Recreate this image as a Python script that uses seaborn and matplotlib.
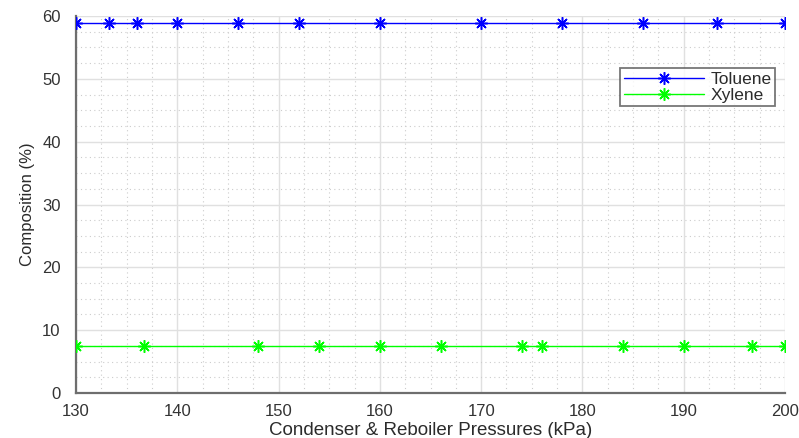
import numpy as np
import pandas as pd
import matplotlib
matplotlib.use("Agg")
import matplotlib.pyplot as plt
from matplotlib.ticker import MultipleLocator
import seaborn as sns

# Column compositions versus condenser/reboiler pressure
toluene_pressure = [130, 133.3, 136, 140, 146, 152, 160, 170, 178, 186, 193.3, 200]
toluene_comp = [58.9, 58.9, 58.9, 58.9, 58.9, 58.9, 58.9, 58.9, 58.9, 58.9, 58.9, 58.9]
xylene_pressure = [130, 136.7, 148, 154, 160, 166, 174, 176, 184, 190, 196.7, 200]
xylene_comp = [7.5, 7.5, 7.5, 7.5, 7.5, 7.5, 7.5, 7.5, 7.5, 7.5, 7.5, 7.5]
components = ["Toluene", "Xylene"]
colors = {"Toluene": "#0000ff", "Xylene": "#00ff00"}

df = pd.concat([
    pd.DataFrame({"Pressure": toluene_pressure, "Composition": toluene_comp, "Component": "Toluene"}),
    pd.DataFrame({"Pressure": xylene_pressure, "Composition": xylene_comp, "Component": "Xylene"}),
], ignore_index=True)

sns.set_theme(style="white")
plt.rcParams["font.family"] = ["Liberation Sans", "DejaVu Sans"]

fig = plt.figure(figsize=(7.99, 4.38), dpi=100)
ax = fig.add_axes([0.0951, 0.1027, 0.8874, 0.8608])

sns.lineplot(data=df, x="Pressure", y="Composition", hue="Component",
             hue_order=components, palette=colors, marker=(8, 2, 0),
             markersize=9, linewidth=1.0, legend=False, ax=ax, zorder=3)
for line in ax.lines:
    line.set_markeredgecolor(line.get_color())
    line.set_markeredgewidth(1.1)

ax.set_xlim(130, 200)
ax.set_ylim(0, 60)
ax.xaxis.set_major_locator(MultipleLocator(10))
ax.yaxis.set_major_locator(MultipleLocator(10))
ax.xaxis.set_minor_locator(MultipleLocator(2.5))
ax.yaxis.set_minor_locator(MultipleLocator(2.5))

ax.grid(which="major", color="#e0e0e0", linewidth=1.0, linestyle="-")
ax.grid(which="minor", color="#cccccc", linewidth=0.8, linestyle=(0, (1, 3)))
ax.set_axisbelow(True)

for side in ("top", "right"):
    ax.spines[side].set_visible(False)
for side in ("left", "bottom"):
    ax.spines[side].set_color("#6e6e6e")
    ax.spines[side].set_linewidth(1.6)

ax.tick_params(which="major", direction="in", length=4, width=1.0, color="#555555",
               labelsize=12, labelcolor="#333333", pad=8)
ax.tick_params(which="minor", length=0)
ax.tick_params(axis="y", pad=11)

ax.set_xlabel("Condenser & Reboiler Pressures (kPa)", fontsize=13.5, color="#2b2b2b", labelpad=2)
ax.set_ylabel("Composition (%)", fontsize=12, color="#2b2b2b", labelpad=5)

leg = ax.legend(ax.lines, components, loc="upper right", bbox_to_anchor=(0.986, 0.862),
                fontsize=12.5, frameon=True, fancybox=False, handlelength=4.6,
                borderpad=0.2, labelspacing=0.05, handletextpad=0.4, borderaxespad=0)
leg.get_frame().set_edgecolor("#555555")
leg.get_frame().set_linewidth(1.3)
for t in leg.get_texts():
    t.set_color("#2b2b2b")

fig.savefig("out.png", dpi=100, facecolor="white")
